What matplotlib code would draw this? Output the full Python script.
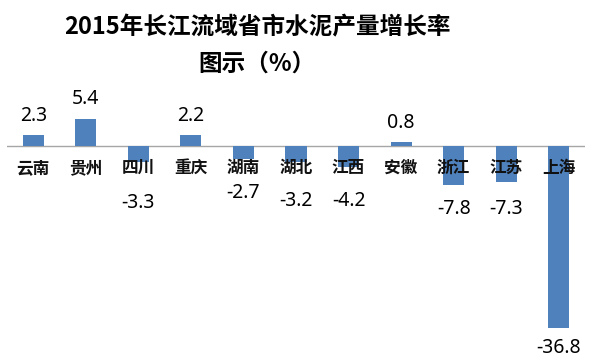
import matplotlib
matplotlib.use("Agg")
import matplotlib.pyplot as plt

categories = ["云南", "贵州", "四川", "重庆", "湖南", "湖北", "江西", "安徽", "浙江", "江苏", "上海"]
values = [2.3, 5.4, -3.3, 2.2, -2.7, -3.2, -4.2, 0.8, -7.8, -7.3, -36.8]
value_labels = ["2.3", "5.4", "-3.3", "2.2", "-2.7", "-3.2", "-4.2", "0.8", "-7.8", "-7.3", "-36.8"]
# label distance (px) from bar end, as in the original manual placement
label_gap_px = [19, 20, 41, 19, 34, 39, 34, 19, 24, 27, 20]

plt.rcParams['font.family'] = ['Noto Sans CJK SC', 'DejaVu Sans']

W, H = 600, 362
fig = plt.figure(figsize=(W / 100, H / 100), dpi=100)
ax = fig.add_axes([7 / W, (H - 345) / H, (585 - 7) / W, 245 / H])

x = list(range(len(categories)))
ax.bar(x, values, width=0.4, color="#4F81BD", zorder=2)
ax.axhline(0, color="#A6A6A6", lw=1.0, zorder=1)
ax.set_xlim(-0.5, 10.5)
ax.set_ylim(-40.2, 9.3)
ax.axis("off")

px2pt = 0.72
for i, (v, lab, gap) in enumerate(zip(values, value_labels, label_gap_px)):
    off = gap * px2pt if v >= 0 else -gap * px2pt
    ax.annotate(lab, xy=(i, v), xytext=(0, off), textcoords="offset points",
                ha="center", va="center", fontsize=14, color="#000000",
                family=["Noto Sans", "DejaVu Sans"], annotation_clip=False, zorder=4)
    ax.annotate(categories[i], xy=(i, 0), xytext=(0, -22 * px2pt), textcoords="offset points",
                ha="center", va="center", fontsize=12, fontweight="bold", color="#111111",
                annotation_clip=False, zorder=5)

fig.text(257 / W, 1 - 27 / H, "2015年长江流域省市水泥产量增长率", ha="center", va="center",
         fontsize=17, fontweight="bold", color="#000000")
fig.text(257 / W, 1 - 64 / H, "图示（%）", ha="center", va="center",
         fontsize=17, fontweight="bold", color="#000000")

fig.savefig("out.png", dpi=100)
